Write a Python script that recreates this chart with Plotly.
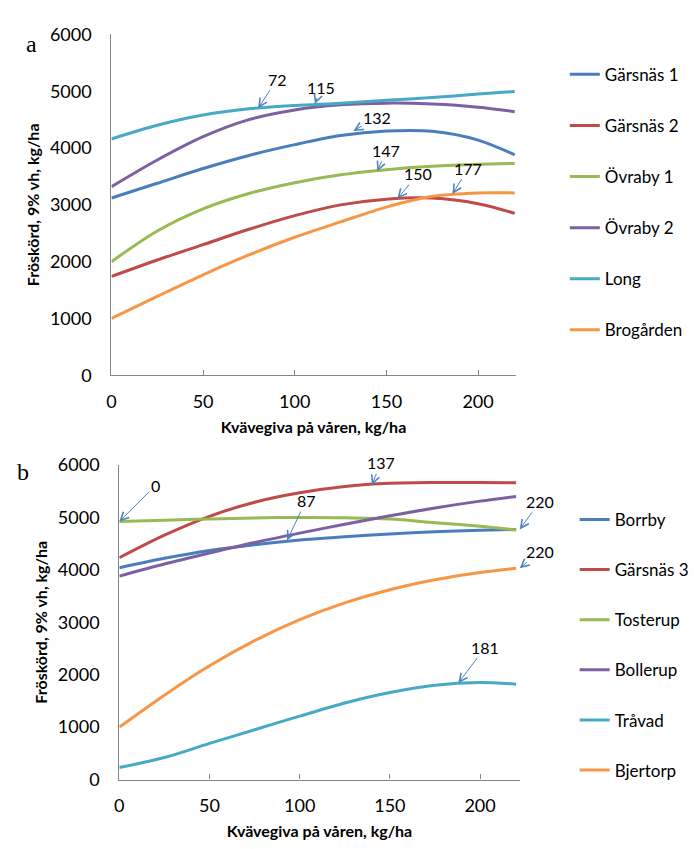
import plotly.graph_objects as go

# ---------------- data ----------------
x_a = [0, 25, 50, 75, 100, 125, 150, 175, 200, 220]
garsnas1 = [3120, 3380, 3640, 3870, 4060, 4220, 4300, 4295, 4140, 3880]
garsnas2 = [1740, 2030, 2300, 2570, 2810, 3000, 3100, 3120, 3020, 2850]
ovraby1 = [2000, 2540, 2930, 3200, 3390, 3530, 3620, 3680, 3715, 3730]
ovraby2 = [3320, 3790, 4200, 4500, 4670, 4760, 4790, 4775, 4720, 4640]
long_ = [4160, 4400, 4580, 4690, 4750, 4790, 4840, 4890, 4950, 4995]
brogarden = [1000, 1390, 1770, 2120, 2430, 2700, 2960, 3150, 3210, 3210]
names_a = ["Gärsnäs 1", "Gärsnäs 2", "Övraby 1", "Övraby 2", "Long", "Brogården"]

x_b = [0, 25, 50, 75, 100, 125, 150, 175, 200, 220]
borrby = [4040, 4220, 4370, 4480, 4570, 4630, 4685, 4725, 4755, 4770]
garsnas3 = [4230, 4660, 5020, 5290, 5470, 5590, 5650, 5665, 5665, 5660]
tosterup = [4920, 4945, 4970, 4990, 5000, 4995, 4970, 4900, 4830, 4760]
bollerup = [3880, 4110, 4320, 4520, 4700, 4870, 5030, 5180, 5310, 5400]
travad = [230, 420, 690, 950, 1210, 1460, 1660, 1800, 1850, 1820]
bjertorp = [1000, 1610, 2170, 2650, 3050, 3370, 3620, 3810, 3950, 4030]
names_b = ["Borrby", "Gärsnäs 3", "Tosterup", "Bollerup", "Tråvad", "Bjertorp"]

# optimum annotations: (label, x, y, text offset px)
ann_a = [("72", 80, 4700, 19, -29), ("115", 111, 4775, 6, -17),
         ("132", 132, 4300, 24, -14), ("147", 145, 3590, 9, -21),
         ("150", 156, 3110, 21, -25), ("177", 186, 3190, 16, -26)]
ann_b = [("0", 0, 4920, 36, -36), ("87", 93, 4560, 19, -40),
         ("137", 140, 5620, 9, -22), ("220", 222, 4770, 20, -28),
         ("220", 222, 4030, 20, -17), ("181", 188, 1840, 27, -36)]

colors = ["#4A7EBB", "#BE4B48", "#98B954", "#7D60A0", "#46AAC5", "#F79646"]

FONT = "Lato, 'Open Sans', sans-serif"
fig = go.Figure()

ser_a = [garsnas1, garsnas2, ovraby1, ovraby2, long_, brogarden]
for i, (nm, ys) in enumerate(zip(names_a, ser_a)):
    fig.add_trace(go.Scatter(x=x_a, y=ys, name=nm, mode="lines",
                             line=dict(color=colors[i], width=3, shape="spline", smoothing=0.9),
                             xaxis="x", yaxis="y", legend="legend",
                             legendgroup="a%d" % i))
ser_b = [borrby, garsnas3, tosterup, bollerup, travad, bjertorp]
for i, (nm, ys) in enumerate(zip(names_b, ser_b)):
    fig.add_trace(go.Scatter(x=x_b, y=ys, name=nm, mode="lines",
                             line=dict(color=colors[i], width=3, shape="spline", smoothing=0.9),
                             xaxis="x2", yaxis="y2", legend="legend2",
                             legendgroup="b%d" % i))

W, H = 694, 849
axcommon = dict(showgrid=False, zeroline=False, showline=True,
                linecolor="#868686", linewidth=1.3,
                tickfont=dict(family=FONT, size=18, color="#000"))
xtitle = dict(text="Kvävegiva på våren, kg/ha",
              font=dict(family=FONT, size=16, color="#000", weight="bold"),
              standoff=10)
ytitle = dict(text="Fröskörd, 9% vh, kg/ha",
              font=dict(family=FONT, size=16, color="#000", weight="bold"),
              standoff=6)

fig.update_layout(
    width=W, height=H, margin=dict(l=0, r=0, t=0, b=0),
    paper_bgcolor="white", plot_bgcolor="white",
    xaxis=dict(domain=[108 / W, (108 + 220.5 * 1.86) / W], range=[0, 220.5],
               tickvals=[0, 50, 100, 150, 200], ticks="inside", ticklen=5,
               tickcolor="#868686", ticklabelstandoff=10, title=xtitle,
               anchor="y", **axcommon),
    yaxis=dict(domain=[1 - 373 / H, 1 - 23 / H], range=[0, 6000],
               tickvals=[0, 1000, 2000, 3000, 4000, 5000, 6000], ticks="",
               ticklabelstandoff=15, title=ytitle, anchor="x", **axcommon),
    xaxis2=dict(domain=[116 / W, (116 + 222 * 1.83) / W], range=[0, 222],
                tickvals=[0, 50, 100, 150, 200], ticks="inside", ticklen=5,
                tickcolor="#868686", ticklabelstandoff=10, title=xtitle,
                anchor="y2", **axcommon),
    yaxis2=dict(domain=[1 - 788 / H, 1 - 465 / H], range=[0, 6000],
                tickvals=[0, 1000, 2000, 3000, 4000, 5000, 6000], ticks="",
                ticklabelstandoff=15, title=ytitle, anchor="x2", **axcommon),
    legend=dict(x=568 / W, xanchor="left", y=1 - 46 / H, yanchor="top",
                font=dict(family=FONT, size=17, color="#000"),
                tracegroupgap=26, bgcolor="rgba(0,0,0,0)"),
    legend2=dict(x=578 / W, xanchor="left", y=1 - 503 / H, yanchor="top",
                 font=dict(family=FONT, size=17, color="#000"),
                 tracegroupgap=25, bgcolor="rgba(0,0,0,0)"),
    showlegend=True,
)

annots = []
for (t, x, y, ax, ay) in ann_a:
    annots.append(dict(text=t, x=x, y=y, xref="x", yref="y", ax=ax, ay=ay,
                       showarrow=True, arrowhead=5, arrowsize=1.6, arrowwidth=1,
                       arrowcolor="#4F81BD", standoff=0,
                       font=dict(family=FONT, size=16, color="#000")))
for (t, x, y, ax, ay) in ann_b:
    annots.append(dict(text=t, x=x, y=y, xref="x2", yref="y2", ax=ax, ay=ay,
                       showarrow=True, arrowhead=5, arrowsize=1.6, arrowwidth=1,
                       arrowcolor="#4F81BD", standoff=0,
                       font=dict(family=FONT, size=16, color="#000")))
annots.append(dict(text="a", x=27 / W, y=1 - 33 / H, xref="paper", yref="paper",
                   xanchor="center", yanchor="middle",
                   showarrow=False, font=dict(family="Liberation Serif", size=24, color="#000")))
annots.append(dict(text="b", x=18 / W, y=1 - 472 / H, xref="paper", yref="paper",
                   xanchor="center", yanchor="middle",
                   showarrow=False, font=dict(family="Liberation Serif", size=24, color="#000")))
fig.update_layout(annotations=annots)

fig.write_html("out.html")
